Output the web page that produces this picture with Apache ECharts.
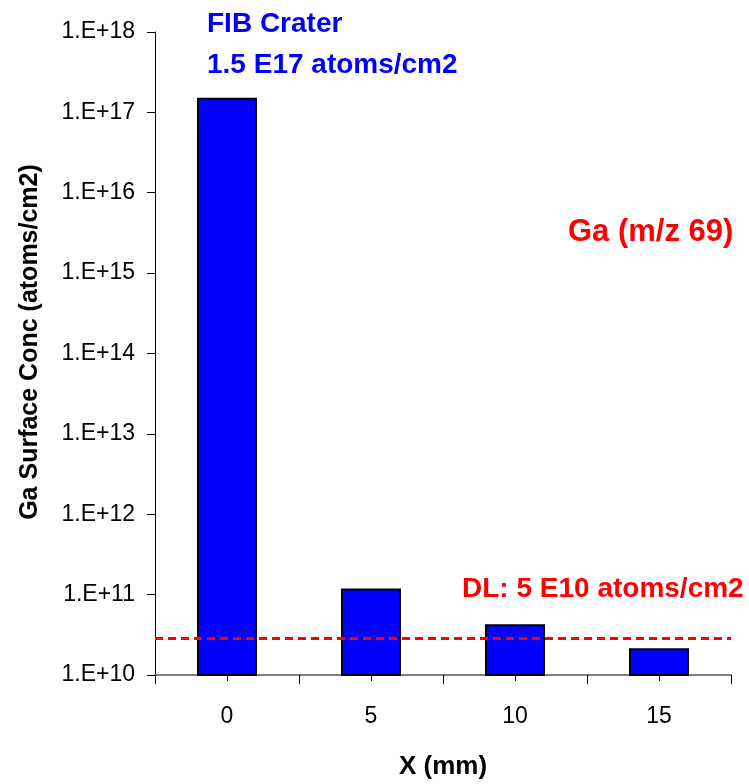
<!DOCTYPE html>
<html>
<head>
<meta charset="utf-8">
<script src="https://cdn.jsdelivr.net/npm/echarts@6/dist/echarts.min.js"></script>
<style>
html,body{margin:0;padding:0;background:#fff;}
#chart{width:749px;height:784px;}
</style>
</head>
<body>
<div id="chart"></div>
<script>
const categories = ['0', '5', '10', '15'];
const gaConc = [1.52e17, 1.19e11, 4.27e10, 2.15e10];
const detectionLimit = 2.85e10;
const yMin = 1e10;
const yMax = 1e18;

const FONT = '"Liberation Sans", Arial, sans-serif';
const chart = echarts.init(document.getElementById('chart'), null, {renderer: 'canvas'});

chart.setOption({
  animation: false,
  backgroundColor: '#ffffff',
  grid: {left: 155, top: 32, right: 18, bottom: 109, containLabel: false},
  xAxis: [{
    type: 'category',
    data: categories,
    boundaryGap: true,
    axisLine: {show: true, lineStyle: {color: '#808080', width: 2}},
    axisTick: {show: true, alignWithLabel: false, length: 9, lineStyle: {color: '#000', width: 1}},
    axisLabel: {fontFamily: FONT, fontSize: 23, color: '#000', margin: 30},
    splitLine: {show: false}
  }, {
    type: 'category',
    data: categories,
    position: 'bottom',
    boundaryGap: true,
    axisLine: {show: false},
    axisTick: {show: true, alignWithLabel: true, length: 6, lineStyle: {color: '#000', width: 1}},
    axisLabel: {show: false},
    splitLine: {show: false}
  }],
  yAxis: {
    type: 'log',
    logBase: 10,
    min: yMin,
    max: yMax,
    axisLine: {show: true, lineStyle: {color: '#000', width: 1}},
    axisTick: {show: true, inside: false, length: 8, lineStyle: {color: '#000', width: 1}},
    axisLabel: {
      fontFamily: FONT, fontSize: 23, color: '#000', margin: 20,
      formatter: function (v) { return '1.E+' + Math.round(Math.log10(v)); }
    },
    splitLine: {show: false}
  },
  series: [{
    type: 'bar',
    data: gaConc,
    barWidth: 60,
    itemStyle: {color: '#0000FF', borderColor: '#000', borderWidth: 2},
    markLine: {
      silent: true,
      symbol: 'none',
      label: {show: false},
      lineStyle: {color: '#FF0000', type: [8, 5], width: 3},
      data: [{yAxis: detectionLimit}]
    }
  }],
  graphic: [
    {type: 'text', x: 30, y: 342, rotation: Math.PI / 2,
      style: {text: 'Ga Surface Conc (atoms/cm2)', fill: '#000', font: 'bold 25px ' + FONT, align: 'center', verticalAlign: 'middle'}},
    {type: 'text', x: 443, y: 767,
      style: {text: 'X (mm)', fill: '#000', font: 'bold 26px ' + FONT, align: 'center', verticalAlign: 'middle'}},
    {type: 'text', x: 207, y: 24, style: {text: 'FIB Crater', fill: '#0000FF', font: 'bold 28px ' + FONT, align: 'left', verticalAlign: 'middle'}},
    {type: 'text', x: 207, y: 65, style: {text: '1.5 E17 atoms/cm2', fill: '#0000FF', font: 'bold 28px ' + FONT, align: 'left', verticalAlign: 'middle'}},
    {type: 'text', x: 568, y: 232, style: {text: 'Ga (m/z 69)', fill: '#FF0000', font: 'bold 31px ' + FONT, align: 'left', verticalAlign: 'middle'}},
    {type: 'text', x: 462, y: 589, style: {text: 'DL: 5 E10 atoms/cm2', fill: '#FF0000', font: 'bold 28px ' + FONT, align: 'left', verticalAlign: 'middle'}}
  ]
});
</script>
</body>
</html>
